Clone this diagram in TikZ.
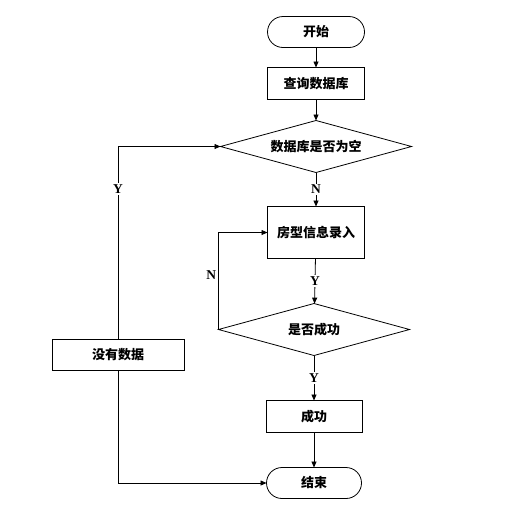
\documentclass[tikz,border=0pt]{standalone}
\usepackage{fontspec}
\setmainfont{Liberation Serif}
\newfontfamily\cjk{Noto Sans CJK SC}
\usetikzlibrary{arrows.meta,positioning,shapes.geometric}

\begin{document}
\begin{tikzpicture}[x=1pt, y=-1pt,
  every node/.style={font=\cjk\bfseries\fontsize{13}{15}\selectfont, outer sep=0pt},
  term/.style={draw, line width=0.8pt, rounded corners=15.5pt, minimum width=97pt, minimum height=31pt, inner sep=0pt},
  proc/.style={draw, line width=0.8pt, minimum width=97pt, minimum height=32pt, inner sep=0pt},
  decide/.style={draw, diamond, aspect=3.67, line width=0.8pt, minimum width=191pt, minimum height=52pt, inner sep=0pt},
  yn/.style={fill=white, inner sep=1.5pt, font=\bfseries\fontsize{13.5}{15}\selectfont},
  arrow/.style={-{Triangle[length=6pt, width=5pt]}, line width=0.8pt}
]
\useasboundingbox (0,0) rectangle (505,504);
\node[term] (start) at (316,32) {开始};
\node[proc, below=20pt of start] (query) {查询数据库};
\node[decide, below=21pt of query] (empty) {数据库是否为空};
\node[proc, below=34pt of empty, minimum height=52pt] (room) {房型信息录入};
\node[decide, below=45pt of room, xshift=-2pt] (ok) {是否成功};
\node[proc, below=45pt of ok, minimum width=96pt] (done) {成功};
\node[term, below=35pt of done, minimum width=95pt] (stop) {结束};
\node[proc, minimum width=132pt, minimum height=31pt] (nodata) at (118,355) {没有数据};
\draw[arrow] (start) -- (query);
\draw[arrow] (query) -- (empty);
\draw[arrow] (empty) -- node[yn]{N} (room);
\draw[arrow] (room) -- node[yn]{Y} (ok);
\draw[arrow] (ok) -- node[yn]{Y} (done);
\draw[arrow] (done) -- (stop);
\draw[arrow] (nodata.north) |- node[yn, pos=0.39]{Y} (empty.west);
\draw[arrow] (nodata.south) |- (stop.west);
\draw[arrow] (ok.west) |- node[yn, left, pos=0.28, xshift=-1pt]{N} (room.west);
\end{tikzpicture}
\end{document}
